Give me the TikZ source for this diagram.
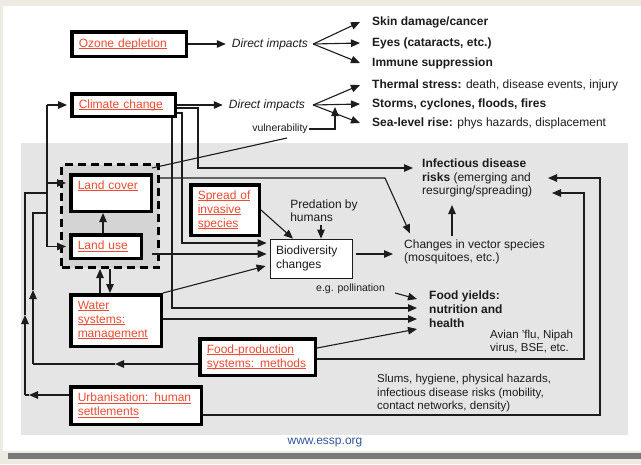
\documentclass[tikz,border=0pt]{standalone}
\usepackage{fontspec}
\setmainfont{Liberation Sans}
\usetikzlibrary{arrows.meta,calc}
\definecolor{bgbeige}{RGB}{236,234,225}
\definecolor{panelgray}{RGB}{229,229,229}
\definecolor{dashgray}{RGB}{212,212,212}
\definecolor{barcol}{RGB}{122,122,122}
\definecolor{drvred}{RGB}{235,75,50}
\definecolor{linkblue}{RGB}{50,85,155}
\definecolor{ink}{RGB}{28,28,28}
\newcommand\redul[1]{\leavevmode\setbox0\hbox{#1}\rlap{\rule[-1.8pt]{\wd0}{0.7pt}}\box0}
\begin{document}
\begin{tikzpicture}[x=1pt,y=-1pt,
  every node/.style={font=\fontsize{12}{13.5}\selectfont, text=ink},
  drv/.style={draw=black, line width=3.5pt, fill=white, text=drvred, align=left,
    inner xsep=7pt, inner ysep=2pt, font=\fontsize{12}{14}\selectfont},
  lbl/.style={align=left, anchor=west, inner sep=1pt},
  arr/.style={line width=1.1pt, draw=ink, -{Triangle[length=9pt,width=7.5pt]}},
  ln/.style={line width=1.1pt, draw=ink},
]
\useasboundingbox (0,0) rectangle (641,464);
% backgrounds
\fill[bgbeige] (0,0) rectangle (641,464);
\fill[white] (3,6) rectangle (641,451);
\fill[barcol] (8,453) rectangle (641,459);
\fill[panelgray] (21,143) rectangle (628,435);

% dashed land box
\node[draw=black, line width=3pt, dash pattern=on 8pt off 5pt, fill=dashgray,
  minimum width=97pt, minimum height=103pt, inner sep=0pt] (lcbox) at (110,216) {};

% driver boxes
\node[drv, minimum width=114.5pt, minimum height=24.5pt, text width=100.5pt] (ozone) at (129,44) {\redul{Ozone depletion}};
\node[drv, minimum width=103.5pt, minimum height=22.5pt, text width=89.5pt] (climate) at (123.5,105) {\redul{Climate change}};
\node[drv, minimum width=80.5pt, minimum height=36.5pt, text width=66.5pt, text depth=16pt] (landcover) at (111,193) {\redul{Land cover}};
\node[drv, minimum width=70.5pt, minimum height=23.5pt, text width=56.5pt] (landuse) at (106,246.5) {\redul{Land use}};
\node[drv, minimum width=90.5pt, minimum height=51.5pt, text width=76.5pt] (water) at (116,320.5) {\redul{Water}\\\redul{systems:}\\\redul{management}};
\node[drv, minimum width=68.5pt, minimum height=50.5pt, text width=54.5pt] (spread) at (225,210) {\redul{Spread of}\\\redul{invasive}\\\redul{species}};
\node[drv, minimum width=115.5pt, minimum height=36.5pt, text width=101.5pt] (foodprod) at (257.5,357) {\redul{Food-production}\\\redul{systems: methods}};
\node[drv, minimum width=130.5pt, minimum height=37.5pt, text width=116.5pt] (urban) at (136,405.5) {\redul{Urbanisation: human}\\\redul{settlements}};

\node[draw=ink, line width=0.8pt, fill=white, minimum width=82pt, minimum height=39pt,
  text width=70pt, align=left, inner xsep=6pt] (bio) at (311,258.5) {Biodiversity\\changes};

% text nodes
\node[font=\itshape\fontsize{12}{13.5}\selectfont, inner sep=2pt] (di1) at (270,44) {Direct impacts};
\node[font=\itshape\fontsize{12}{13.5}\selectfont, inner sep=2pt] (di2) at (267,105) {Direct impacts};
\node[lbl, font=\bfseries\fontsize{12}{13.5}\selectfont] (skin) at (371,22) {Skin damage/cancer};
\node[lbl, font=\bfseries\fontsize{12}{13.5}\selectfont] (eyes) at (371,43) {Eyes (cataracts, etc.)};
\node[lbl, font=\bfseries\fontsize{12}{13.5}\selectfont] (immune) at (371,63) {Immune suppression};
\node[lbl] (thermal) at (371,85) {\textbf{Thermal stress:} death, disease events, injury};
\node[lbl, font=\bfseries\fontsize{12}{13.5}\selectfont] (storms) at (371,104) {Storms, cyclones, floods, fires};
\node[lbl] (sea) at (371,123) {\textbf{Sea-level rise:} phys hazards, displacement};
\node[font=\fontsize{10.5}{12}\selectfont, inner sep=1pt] (vuln) at (280,129) {vulnerability};
\node[align=left, inner sep=1pt] (pred) at (324,210.5) {Predation by\\humans};
\node[lbl] (infect) at (421,178) {\textbf{Infectious disease}\\\textbf{risks} (emerging and\\resurging/spreading)};
\node[lbl] (vector) at (403,252) {Changes in vector species\\(mosquitoes, etc.)};
\node[lbl, font=\fontsize{10.5}{12}\selectfont] (poll) at (315,289) {e.g. pollination};
\node[lbl, font=\bfseries\fontsize{12}{14}\selectfont] (foody) at (428,309) {Food yields:\\nutrition and\\health};
\node[lbl, font=\fontsize{11.5}{13}\selectfont] (avian) at (489,341.5) {Avian 'flu, Nipah\\virus, BSE, etc.};
\node[lbl, font=\fontsize{11.5}{13.5}\selectfont] (slums) at (376,393.5) {Slums, hygiene, physical hazards,\\infectious disease risks (mobility,\\contact networks, density)};
\node[font=\fontsize{12}{13.5}\selectfont, text=linkblue, inner sep=1pt] (essp) at (325,443) {www.essp.org};

% coordinates
\coordinate (b1) at (47,105);
\coordinate (b2) at (47,183);
\coordinate (b3) at (47,246.5);
\coordinate (fp1) at (33,364);
\coordinate (fpa) at (115,364);
\coordinate (fpb) at (33,290);
\coordinate (fp2) at (33,213);
\coordinate (fp3) at (47,213);
\coordinate (u1) at (25,395);
\coordinate (ua) at (29,395);
\coordinate (ub) at (25,315);
\coordinate (u2) at (25,193);
\coordinate (u3) at (47,193);
\coordinate (c1) at (198,108);
\coordinate (c2) at (198,168);
\coordinate (c3) at (182,113);
\coordinate (c4) at (182,243);
\coordinate (c5) at (172,308);
\coordinate (lc1) at (385,178);
\coordinate (lu0) at (152,254);
\coordinate (w1) at (163,319);
\coordinate (fp4) at (317,348);
\coordinate (f1) at (584,359);
\coordinate (f2) at (584,193);
\coordinate (f3) at (552,193);
\coordinate (u4) at (600,415);
\coordinate (u5) at (600,178);
\coordinate (u6) at (548,178);
\coordinate (pr) at (321,225);
\coordinate (bv) at (356,254);
\coordinate (vi) at (452,236);
\coordinate (vi2) at (452,205);
\coordinate (wu) at (100,293);
\coordinate (wd) at (110,269);
\coordinate (lu) at (103,233);
\coordinate (vjoin) at (335,107);
\coordinate (vstart) at (152,168);
\coordinate (vend) at (287,138);

% top direct impacts
\draw[arr, shorten >=4pt] (ozone) -- (di1);
\draw[arr, shorten >=4pt] (climate) -- (di2);
\draw[arr] ([xshift=3pt]di1.east) -- ([xshift=-11pt]skin.west);
\draw[arr] ([xshift=3pt]di1.east) -- ([xshift=-11pt]eyes.west);
\draw[arr] ([xshift=3pt]di1.east) -- ([xshift=-11pt]immune.west);
\draw[arr] ([xshift=6pt]di2.east) -- ([xshift=-11pt]thermal.west);
\draw[arr] ([xshift=6pt]di2.east) -- ([xshift=-11pt]storms.west);
\draw[arr] ([xshift=6pt]di2.east) -- ([xshift=-11pt]sea.west);
\draw[arr] (vuln.east) -| (vjoin);
\draw[ln] (vstart) -- (vend);

% left bracket
\draw[ln] (b1) -- (b3);
\draw[arr, shorten >=3pt] (b1) -- (climate.west);
\draw[arr, shorten >=3pt] (b2) -- (b2 -| landcover.west);
\draw[arr, shorten >=3pt] (b3) -- (landuse.west);
% food production loop
\draw[arr] (foodprod.west |- fp1) -- (fpa);
\draw[ln] (fpa) -- (fp1);
\draw[arr] (fp1) -- (fpb);
\draw[ln] (fpb) -- (fp2) -- (fp3);
% urbanisation loop
\draw[arr] (urban.west |- u1) -- (ua);
\draw[ln] (ua) -- (u1);
\draw[arr] (u1) -- (ub);
\draw[ln] (ub) -- (u2) -- (u3);

% land box internal
\draw[arr] (landuse.north -| lu) -- (lu |- landcover.south);
\draw[arr] (wu) -- (wu |- lcbox.south);
\draw[arr] (wd) -- (wd |- water.north);

% climate outputs
\draw[arr, shorten >=8pt] (climate.east |- c1) -- (c1) -- (c2) -- (infect.west |- c2);
\draw[arr, shorten >=3pt] (climate.east |- c3) -- (c3) -- (c4) -- (bio.west |- c4);
\draw[arr, shorten >=11pt] (climate.south -| c5) -- (c5) -- (foody.west |- c5);

% land outputs
\draw[arr] (lcbox.east |- lc1) -- (lc1) -- ([xshift=7pt,yshift=5pt]vector.north west);
\draw[arr, shorten >=3pt] (lu0) -- (bio.west |- lu0);
\draw[arr] (water.north east) -- ([xshift=-4pt,yshift=-7.5pt]bio.west);
\draw[arr, shorten >=11pt] (water.east |- w1) -- (foody.west |- w1);
\draw[arr] (foodprod.east |- fp4) -- ([xshift=-11pt,yshift=-20pt]foody.west);
\draw[arr] ([xshift=9pt,yshift=-4pt]poll.east) -- ([xshift=-11pt,yshift=10pt]foody.west);
\draw[arr] (foodprod.east |- f1) -- (f1) -- (f2) -- (f3);
\draw[arr] (urban.east |- u4) -- (u4) -- (u5) -- (u6);

% biodiversity
\draw[arr] (spread.east) -- ([xshift=-18pt]bio.north);
\draw[arr] (pr) -- (pr |- bio.north);
\draw[arr, shorten >=10pt] (bv) -- (vector.west |- bv);
\draw[arr] (vi) -- (vi2);
\end{tikzpicture}
\end{document}
